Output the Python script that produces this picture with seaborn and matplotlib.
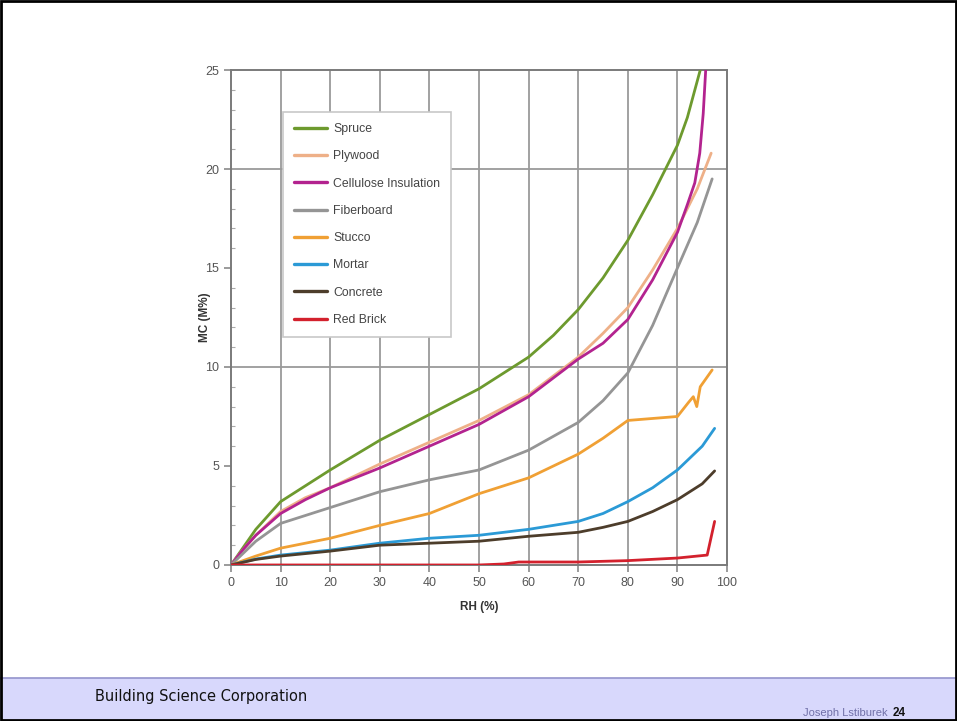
import pandas as pd
import matplotlib.pyplot as plt
import seaborn as sns
from matplotlib.patches import Rectangle
from matplotlib.ticker import MultipleLocator

# ==============================
# Datos (RH %, MC %)
# ==============================
spruce_rh = [0, 2.5, 5, 10, 15, 20, 30, 40, 50, 60, 65, 70, 75, 80, 85, 90, 92, 94.6]
spruce_mc = [0, 0.9, 1.8, 3.2, 4.0, 4.8, 6.3, 7.6, 8.9, 10.5, 11.6, 12.9, 14.5, 16.4, 18.7, 21.2, 22.6, 25.0]

plywood_rh = [0, 2.5, 5, 10, 15, 20, 30, 40, 50, 60, 70, 75, 80, 85, 90, 94, 96.8]
plywood_mc = [0, 0.8, 1.5, 2.7, 3.4, 3.9, 5.1, 6.2, 7.3, 8.6, 10.5, 11.7, 13.0, 14.9, 17.0, 19.0, 20.8]

cellulose_rh = [0, 2.5, 5, 10, 15, 20, 30, 40, 50, 60, 70, 75, 80, 85, 90, 92, 93.5, 94.5, 95.2, 95.7]
cellulose_mc = [0, 0.8, 1.5, 2.6, 3.3, 3.9, 4.9, 6.0, 7.1, 8.5, 10.4, 11.2, 12.4, 14.4, 16.8, 18.2, 19.3, 20.8, 22.8, 25.0]

fiber_rh = [0, 2.5, 5, 10, 15, 20, 30, 40, 50, 60, 70, 75, 80, 85, 90, 94, 97]
fiber_mc = [0, 0.6, 1.2, 2.1, 2.5, 2.9, 3.7, 4.3, 4.8, 5.8, 7.2, 8.3, 9.7, 12.1, 15.0, 17.3, 19.5]

stucco_rh = [0, 5, 10, 20, 30, 40, 50, 60, 70, 75, 80, 90, 92.2, 93.2, 93.9, 94.6, 97]
stucco_mc = [0, 0.45, 0.85, 1.35, 2.0, 2.6, 3.6, 4.4, 5.6, 6.4, 7.3, 7.5, 8.2, 8.5, 8.0, 9.0, 9.85]

mortar_rh = [0, 5, 10, 20, 30, 40, 50, 60, 70, 75, 80, 85, 90, 95, 97.5]
mortar_mc = [0, 0.3, 0.5, 0.75, 1.1, 1.35, 1.5, 1.8, 2.2, 2.6, 3.2, 3.9, 4.8, 6.0, 6.9]

concrete_rh = [0, 5, 10, 20, 30, 40, 50, 60, 70, 75, 80, 85, 90, 95, 97.5]
concrete_mc = [0, 0.28, 0.45, 0.7, 1.0, 1.1, 1.2, 1.45, 1.65, 1.9, 2.2, 2.7, 3.3, 4.1, 4.75]

brick_rh = [0, 50, 55, 58, 60, 70, 80, 90, 96, 97.5]
brick_mc = [0, 0, 0.05, 0.15, 0.15, 0.15, 0.22, 0.35, 0.5, 2.2]

materiales = ["Spruce", "Plywood", "Cellulose Insulation", "Fiberboard",
              "Stucco", "Mortar", "Concrete", "Red Brick"]
colores = ["#6d9a2e", "#eeb088", "#b3238f", "#959595",
           "#f0a034", "#2b9ad6", "#4d3d2b", "#d3212d"]

series = [(spruce_rh, spruce_mc), (plywood_rh, plywood_mc),
          (cellulose_rh, cellulose_mc), (fiber_rh, fiber_mc),
          (stucco_rh, stucco_mc), (mortar_rh, mortar_mc),
          (concrete_rh, concrete_mc), (brick_rh, brick_mc)]

filas = []
for nombre, (rh, mc) in zip(materiales, series):
    for a, b in zip(rh, mc):
        filas.append({"RH": a, "MC": b, "Material": nombre})
df = pd.DataFrame(filas)

# ==============================
# Figura
# ==============================
sns.set_style("white")
plt.rcParams["font.family"] = ["Liberation Sans", "DejaVu Sans"]

fig = plt.figure(figsize=(9.57, 7.21), dpi=100)
ax = fig.add_axes([0.2414, 0.2164, 0.5183, 0.6865])

# rejilla
for v in range(10, 100, 10):
    ax.axvline(v, color="#9a9a9a", lw=1.3, zorder=1)
for h in [10, 20]:
    ax.axhline(h, color="#9a9a9a", lw=1.3, zorder=1)

sns.lineplot(data=df, x="RH", y="MC", hue="Material", hue_order=materiales,
             palette=dict(zip(materiales, colores)), linewidth=2.0,
             sort=False, estimator=None, ax=ax, zorder=3)

ax.set_xlim(0, 100)
ax.set_ylim(0, 25)
ax.xaxis.set_major_locator(MultipleLocator(10))
ax.yaxis.set_major_locator(MultipleLocator(5))
ax.yaxis.set_minor_locator(MultipleLocator(1))
ax.tick_params(axis="both", which="major", direction="out", length=5,
               width=1.2, color="#8a8a8a", labelsize=9, labelcolor="#555555",
               left=True, bottom=True)
ax.tick_params(axis="y", which="minor", direction="in", length=3,
               width=0.8, color="#aaaaaa", left=True)
for s in ax.spines.values():
    s.set_color("#7a7a7a")
    s.set_linewidth(1.4)

ax.set_xlabel("RH (%)", fontsize=8.5, fontweight="bold", color="#333333", labelpad=9)
ax.set_ylabel("MC (M%)", fontsize=8.5, fontweight="bold", color="#333333", labelpad=-4)

leg = ax.legend(loc="upper left", bbox_to_anchor=(0.105, 0.915),
                frameon=True, fancybox=False, fontsize=8.8,
                handlelength=2.7, labelspacing=1.25, borderpad=0.9,
                handletextpad=0.5, borderaxespad=0)
leg.get_frame().set_edgecolor("#c8c8c8")
leg.get_frame().set_linewidth(1.2)
leg.get_frame().set_alpha(1)
leg.set_zorder(5)
for t in leg.get_texts():
    t.set_color("#444444")
for l in leg.get_lines():
    l.set_linewidth(2.4)

# pie de diapositiva
fig.patches.append(Rectangle((0, 0), 1, 43 / 721, transform=fig.transFigure,
                             facecolor="#d8d8fc", edgecolor="none", zorder=0))
fig.lines.append(plt.Line2D([0, 1], [43 / 721, 43 / 721], transform=fig.transFigure,
                            color="#9494cc", lw=1.2))
fig.patches.append(Rectangle((0.001, 0.001), 0.998, 0.997, transform=fig.transFigure,
                             facecolor="none", edgecolor="black", lw=2, zorder=10))
fig.text(95 / 957, 1 - 696 / 721, "Building Science Corporation",
         fontsize=10.5, family="DejaVu Sans", color="#111111", va="center")
fig.text(888 / 957, 1 - 713 / 721, "Joseph Lstiburek", fontsize=8,
         color="#7070a8", ha="right", va="center")
fig.text(893 / 957, 1 - 713 / 721, "24", fontsize=8.5, fontweight="bold",
         color="#111111", ha="left", va="center")

plt.savefig("out.png", dpi=100)
plt.close()
